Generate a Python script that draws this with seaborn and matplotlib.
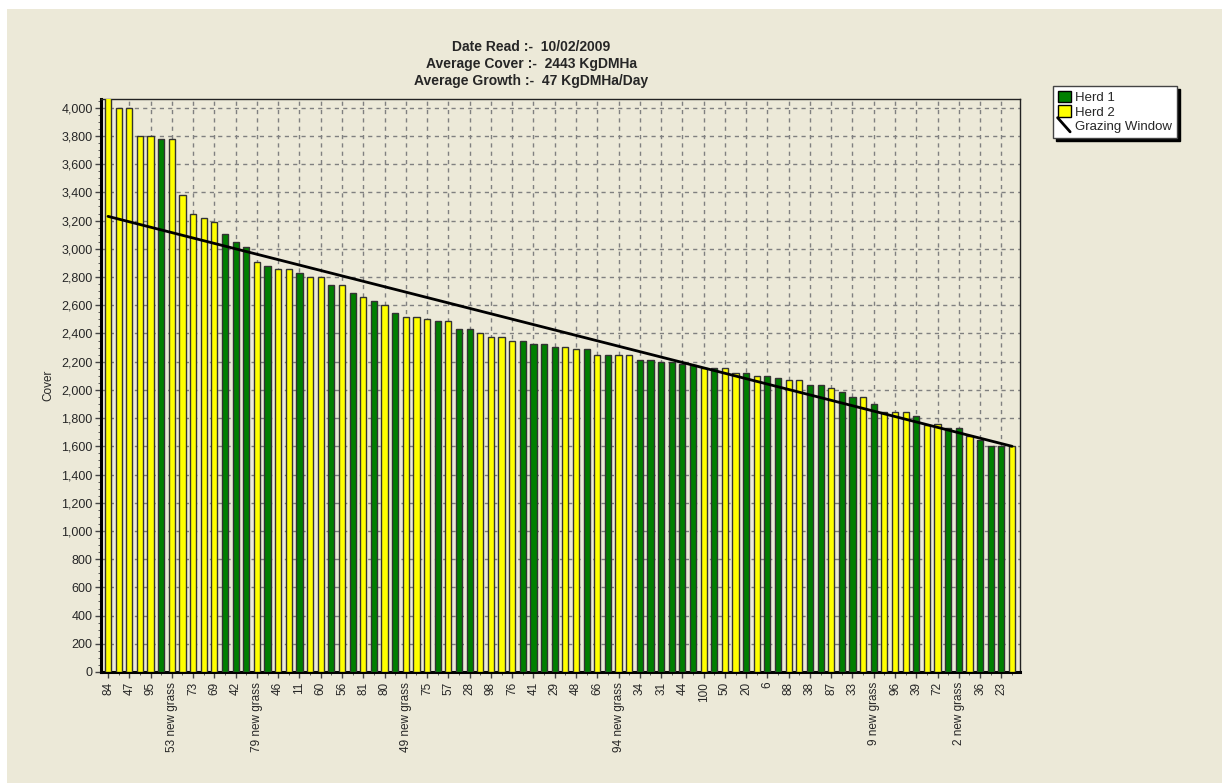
import numpy as np
import pandas as pd
import matplotlib
matplotlib.use("Agg")
import matplotlib.pyplot as plt
import seaborn as sns
from matplotlib.patches import Patch, Rectangle
from matplotlib.lines import Line2D
from matplotlib.legend_handler import HandlerBase
from matplotlib.ticker import FuncFormatter, MultipleLocator

# ---------- data ----------
# herd of each paddock bar, left to right (1 = Herd 1, 2 = Herd 2)
herd = [2, 2, 2, 2, 2, 1, 2, 2, 2, 2, 2, 1, 1, 1, 2, 1, 2, 2, 1, 2,
        2, 1, 2, 1, 2, 1, 2, 1, 2, 2, 2, 1, 2, 1, 1, 2, 2, 2, 2, 1,
        1, 1, 1, 2, 2, 1, 2, 1, 2, 2, 1, 1, 1, 1, 1, 1, 2, 1, 2, 2,
        1, 2, 1, 1, 2, 2, 1, 1, 2, 1, 1, 2, 1, 2, 2, 2, 1, 2, 2, 1,
        1, 2, 1, 1, 1, 2]

# cover (KgDM/Ha) of each bar, first one runs off the top of the chart
cover = [4100, 4000, 4000, 3800, 3800, 3780, 3780, 3380, 3250, 3220,
         3190, 3105, 3050, 3015, 2910, 2880, 2860, 2860, 2825, 2800,
         2800, 2740, 2740, 2690, 2655, 2630, 2600, 2545, 2520, 2520,
         2505, 2485, 2485, 2435, 2435, 2400, 2375, 2375, 2350, 2350,
         2325, 2325, 2305, 2305, 2290, 2290, 2245, 2245, 2245, 2245,
         2210, 2210, 2200, 2200, 2185, 2175, 2155, 2155, 2155, 2120,
         2120, 2095, 2095, 2085, 2070, 2070, 2035, 2035, 2010, 1985,
         1950, 1950, 1900, 1845, 1845, 1845, 1815, 1750, 1755, 1730,
         1730, 1670, 1645, 1600, 1600, 1600]

# paddock names shown under every second bar
tick_labels = ["84", "47", "95", "53 new grass", "73", "69", "42", "79 new grass",
               "46", "11", "60", "56", "81", "80", "49 new grass", "75", "57",
               "28", "98", "76", "41", "29", "48", "66", "94 new grass", "34",
               "31", "44", "100", "50", "20", "6", "88", "38", "87", "33",
               "9 new grass", "96", "39", "72", "2 new grass", "36", "23"]

# grazing window: pre-grazing target down to post-grazing residual
window_start = 3230
window_end = 1600

title_lines = ["Date Read :-  10/02/2009",
               "Average Cover :-  2443 KgDMHa",
               "Average Growth :-  47 KgDMHa/Day"]

BG = "#ECE9D8"
GREEN = "#008000"
YELLOW = "#FFFF00"

df = pd.DataFrame({"bar": np.arange(len(cover)), "cover": cover,
                   "herd": ["Herd %d" % h for h in herd]})

sns.set_style("ticks")
plt.rcParams["font.family"] = ["Liberation Sans", "DejaVu Sans"]

fig = plt.figure(figsize=(12.22, 7.83), dpi=100, facecolor=BG)
# thin white strip along the top and left edge of the screenshot
fig.patches.append(Rectangle((0, 1 - 9 / 783), 1, 9 / 783, transform=fig.transFigure,
                             facecolor="white", edgecolor="none", zorder=-10))
fig.patches.append(Rectangle((0, 0), 7 / 1222, 1, transform=fig.transFigure,
                             facecolor="white", edgecolor="none", zorder=-10))
ax = fig.add_axes([101 / 1222, 1 - 672 / 783, (1020 - 101) / 1222, (672 - 99) / 783])
ax.set_facecolor(BG)

sns.barplot(data=df, x="bar", y="cover", hue="herd", dodge=False, saturation=1,
            palette={"Herd 1": GREEN, "Herd 2": YELLOW}, width=0.58,
            edgecolor="#333333", linewidth=1, legend=False, ax=ax, zorder=3)

sns.lineplot(x=[0, len(cover) - 1], y=[window_start, window_end], color="black",
             linewidth=2, ax=ax, zorder=4)

ax.set_xlim(-0.66, len(cover) - 1 + 0.75)
ax.set_ylim(0, 4062)

# labels on every second bar, small tick on every bar
ax.set_xticks(np.arange(0, len(cover), 2))
ax.set_xticklabels(tick_labels, rotation=90, fontsize=8.5)
ax.set_xticks(np.arange(len(cover)), minor=True)
ax.yaxis.set_major_locator(MultipleLocator(200))
ax.yaxis.set_minor_locator(MultipleLocator(50))
ax.yaxis.set_major_formatter(FuncFormatter(lambda v, p: f"{int(v):,}"))
ax.tick_params(axis="y", labelsize=9, length=4, width=1, color="#444444", pad=2)
ax.tick_params(axis="y", which="minor", length=2, color="#444444")
ax.tick_params(axis="x", length=4, width=1, color="#444444", pad=3)
ax.tick_params(axis="x", which="minor", length=2, color="#444444")

ax.grid(True, which="major", color="#808080", linestyle=(0, (3, 3)), linewidth=1)
ax.set_axisbelow(True)

for side in ["left", "bottom"]:
    ax.spines[side].set_linewidth(2.2)
    ax.spines[side].set_color("black")
for side in ["top", "right"]:
    ax.spines[side].set_linewidth(1)
    ax.spines[side].set_color("#222222")

ax.set_xlabel("")
ax.set_ylabel("Cover", fontsize=8.5, labelpad=5)

fig.text(531 / 1222, 1 - 64 / 783, "\n".join(title_lines), ha="center", va="center",
         fontsize=10, fontweight="bold", linespacing=1.26)


class DiagonalHandler(HandlerBase):
    def create_artists(self, legend, orig_handle, xdescent, ydescent,
                       width, height, fontsize, trans):
        ln = Line2D([-xdescent, -xdescent + height * 1.1], [height + 1, -1],
                    color="black", lw=2, transform=trans)
        return [ln]


handles = [Patch(facecolor=GREEN, edgecolor="black", linewidth=1),
           Patch(facecolor=YELLOW, edgecolor="black", linewidth=1),
           Line2D([], [], color="black", lw=2)]
leg = fig.legend(handles, ["Herd 1", "Herd 2", "Grazing Window"],
                 loc="upper left", bbox_to_anchor=(1053 / 1222, 1 - 86 / 783),
                 fontsize=9.5, frameon=True, fancybox=False, framealpha=1,
                 edgecolor="#444444", facecolor="white",
                 shadow={"color": "black", "alpha": 1},
                 handlelength=1.0, handleheight=0.95, handletextpad=0.35,
                 labelspacing=0.12, borderpad=0.35, borderaxespad=0,
                 handler_map={Line2D: DiagonalHandler()})
leg.get_frame().set_linewidth(1)

fig.savefig("out.png", dpi=100, facecolor=fig.get_facecolor())
